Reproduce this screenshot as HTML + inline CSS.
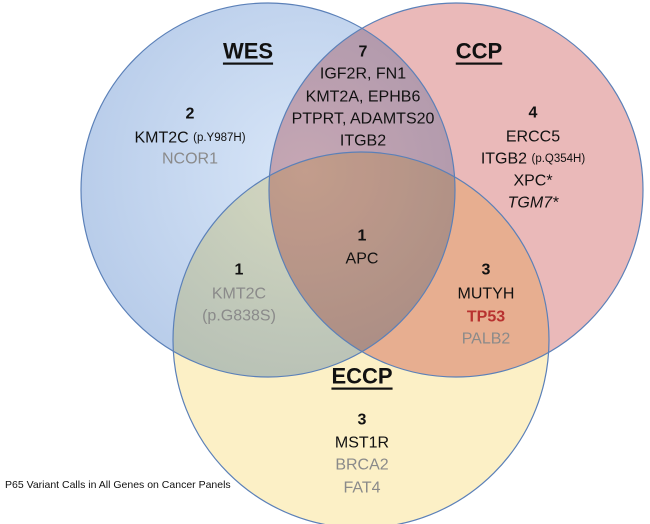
<!DOCTYPE html>
<html><head><meta charset="utf-8"><style>
html,body{margin:0;padding:0;background:#fff;width:650px;height:524px;overflow:hidden}
svg{display:block}
text{font-family:"Liberation Sans",sans-serif;text-anchor:middle;dominant-baseline:central;font-size:16px;fill:#111}
.b{font-weight:bold}.g{fill:#8a8a8a}.s{font-size:11.5px}
.h{font-size:22px;font-weight:bold;text-decoration:underline}
</style></head><body>
<svg width="650" height="524" viewBox="0 0 650 524">
<defs>
<radialGradient id="gb" cx="0.6" cy="0.45" r="0.6"><stop offset="0" stop-color="#d8e6f8"/><stop offset="1" stop-color="#b9cdea"/></radialGradient>
</defs>
<g style="isolation:isolate">
<circle cx="268" cy="190" r="187" fill="url(#gb)" style="mix-blend-mode:multiply"/>
<circle cx="456" cy="190" r="187" fill="#eab9b9" style="mix-blend-mode:multiply"/>
<circle cx="361" cy="340" r="188" fill="#fcf0c6" style="mix-blend-mode:multiply"/>
</g>
<circle cx="268" cy="190" r="187" fill="none" stroke="#5b80b8" stroke-width="1.2"/>
<circle cx="456" cy="190" r="187" fill="none" stroke="#5b80b8" stroke-width="1.2"/>
<circle cx="361" cy="340" r="188" fill="none" stroke="#5b80b8" stroke-width="1.2"/>

<text x="248" y="51" class="h">WES</text>
<text x="479" y="51" class="h">CCP</text>
<text x="362" y="376" class="h">ECCP</text>

<text x="363" y="52" class="b">7</text>
<text x="363" y="74">IGF2R, FN1</text>
<text x="363" y="97">KMT2A, EPHB6</text>
<text x="363" y="119">PTPRT, ADAMTS20</text>
<text x="363" y="141">ITGB2</text>

<text x="190" y="114" class="b">2</text>
<text x="190" y="138">KMT2C <tspan class="s">(p.Y987H)</tspan></text>
<text x="190" y="159" class="g">NCOR1</text>

<text x="533" y="113" class="b">4</text>
<text x="533" y="137">ERCC5</text>
<text x="533" y="159">ITGB2 <tspan class="s">(p.Q354H)</tspan></text>
<text x="533" y="181">XPC*</text>
<text x="533" y="203" font-style="italic">TGM7*</text>

<text x="362" y="236" class="b">1</text>
<text x="362" y="259">APC</text>

<text x="239" y="270" class="b">1</text>
<text x="239" y="294" class="g">KMT2C</text>
<text x="239" y="316" class="g">(p.G838S)</text>

<text x="486" y="270" class="b">3</text>
<text x="486" y="294">MUTYH</text>
<text x="486" y="317" class="b" style="fill:#b8312f">TP53</text>
<text x="486" y="339" class="g">PALB2</text>

<text x="362" y="420" class="b">3</text>
<text x="362" y="443">MST1R</text>
<text x="362" y="465" class="g">BRCA2</text>
<text x="362" y="488" class="g">FAT4</text>

<text x="5" y="485" style="text-anchor:start;font-size:10.5px">P65 Variant Calls in All Genes on Cancer Panels</text>
</svg>
</body></html>
